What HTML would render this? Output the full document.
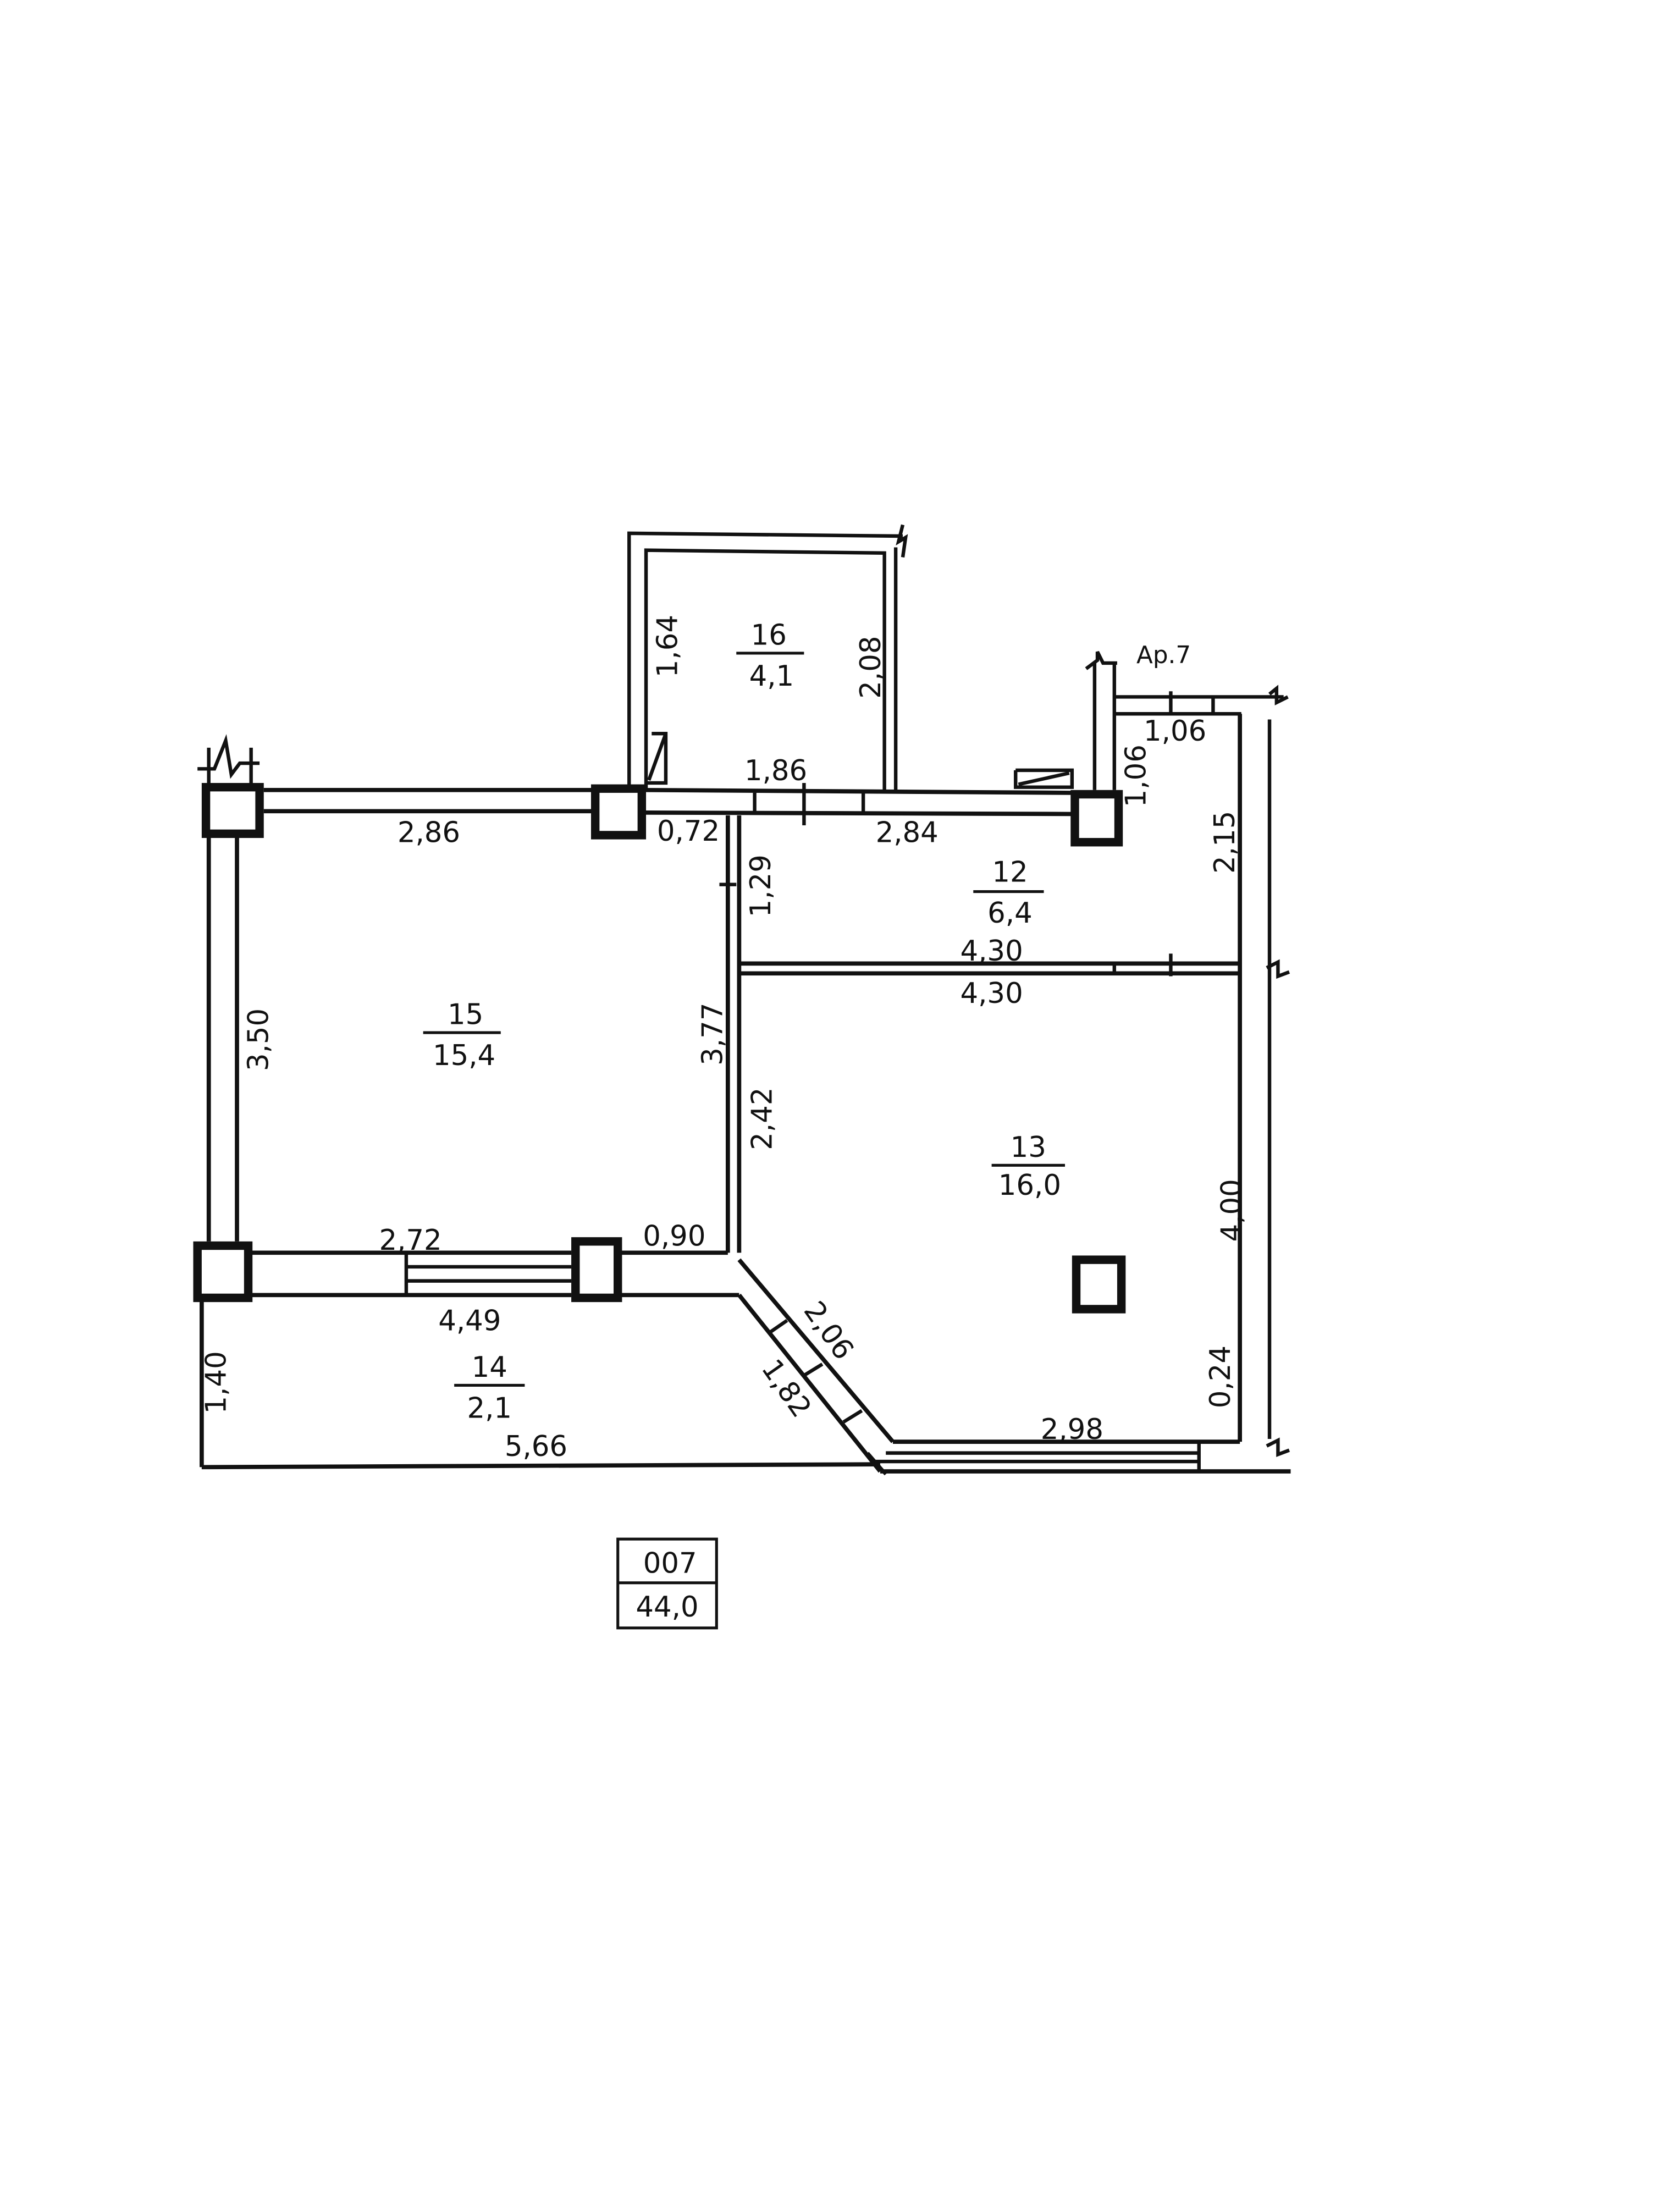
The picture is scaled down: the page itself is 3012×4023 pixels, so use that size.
<!DOCTYPE html>
<html><head><meta charset="utf-8"><style>
html,body{margin:0;padding:0;background:#fff}
svg{display:block}
text{font-family:"DejaVu Sans","Liberation Sans",sans-serif;fill:#111}
</style></head><body>
<svg width="3012" height="4023" viewBox="0 0 1174 1568" xmlns="http://www.w3.org/2000/svg">
<rect width="1174" height="1568" fill="#fff"/>
<g stroke="#111" fill="none" stroke-width="2.5">
<polyline points="446,560 446,378 640,380"/>
<polyline points="458,560 458,390 627,392 627,560"/>
<line x1="635" y1="388" x2="635" y2="560"/>
<path d="M640,372 l-3,12 l5,-3 l-2,14"/>
<polyline points="462,520 472,520 472,555 458,555"/>
<line x1="472" y1="520" x2="460" y2="553"/>
<line x1="187" y1="560" x2="420" y2="560" stroke-width="3"/>
<line x1="187" y1="575" x2="420" y2="575" stroke-width="3"/>
<line x1="457" y1="560" x2="760" y2="562" stroke-width="3"/>
<line x1="457" y1="576" x2="760" y2="577" stroke-width="3"/>
<line x1="535" y1="562" x2="535" y2="577"/>
<line x1="612" y1="562" x2="612" y2="577"/>
<line x1="570" y1="555" x2="570" y2="585"/>
<line x1="776" y1="470" x2="776" y2="560"/>
<line x1="790" y1="470" x2="790" y2="560"/>
<path d="M770,474 l8,-6 l0,-6 l4,8 l10,0"/>
<polyline points="720,546 720,558 760,558 760,546 720,546"/>
<line x1="722" y1="556" x2="758" y2="548"/>
<line x1="790" y1="494" x2="910" y2="494"/>
<line x1="790" y1="506" x2="880" y2="506"/>
<line x1="830" y1="490" x2="830" y2="506"/>
<line x1="860" y1="494" x2="860" y2="506"/>
<path d="M900,492 l5,-4 l0,10 l8,-4"/>
<line x1="879" y1="506" x2="879" y2="1022" stroke-width="3"/>
<line x1="900" y1="510" x2="900" y2="1020"/>
<path d="M898,686 l8,-4 l0,10 l8,-3"/>
<path d="M898,1025 l8,-4 l0,10 l8,-3"/>
<line x1="516" y1="578" x2="516" y2="888" stroke-width="3"/>
<line x1="524" y1="578" x2="524" y2="888" stroke-width="3"/>
<line x1="510" y1="627" x2="522" y2="627"/>
<line x1="524" y1="683" x2="879" y2="683" stroke-width="3"/>
<line x1="524" y1="690" x2="879" y2="690" stroke-width="3"/>
<line x1="830" y1="676" x2="830" y2="692"/>
<line x1="790" y1="683" x2="790" y2="690"/>
<line x1="148" y1="592" x2="148" y2="880" stroke-width="3"/>
<line x1="168" y1="592" x2="168" y2="880" stroke-width="3"/>
<path d="M140,545 l12,0 l8,-20 l4,24 l6,-8 l14,0"/>
<line x1="148" y1="530" x2="148" y2="556"/>
<line x1="178" y1="530" x2="178" y2="556"/>
<line x1="178" y1="888" x2="405" y2="888" stroke-width="3"/>
<line x1="178" y1="918" x2="405" y2="918" stroke-width="3"/>
<line x1="288" y1="888" x2="288" y2="918"/>
<line x1="288" y1="898" x2="405" y2="898"/>
<line x1="288" y1="908" x2="405" y2="908"/>
<line x1="440" y1="888" x2="516" y2="888" stroke-width="3"/>
<line x1="440" y1="918" x2="524" y2="918" stroke-width="3"/>
<line x1="524" y1="893" x2="633" y2="1022" stroke-width="3"/>
<line x1="524" y1="918" x2="624" y2="1043" stroke-width="3"/>
<line x1="615" y1="1030" x2="628" y2="1045"/>
<line x1="545" y1="945" x2="558" y2="936"/>
<line x1="570" y1="975" x2="583" y2="967"/>
<line x1="598" y1="1008" x2="611" y2="1000"/>
<line x1="633" y1="1022" x2="879" y2="1022" stroke-width="3"/>
<line x1="628" y1="1030" x2="850" y2="1030"/>
<line x1="620" y1="1036" x2="850" y2="1036"/>
<line x1="624" y1="1043" x2="915" y2="1043" stroke-width="3"/>
<line x1="850" y1="1022" x2="850" y2="1043"/>
<line x1="143" y1="922" x2="143" y2="1040" stroke-width="3"/>
<line x1="143" y1="1040" x2="624" y2="1038" stroke-width="3"/>
</g>
<g stroke="#111" stroke-width="6" fill="#fff">
<rect x="146" y="558" width="38" height="33"/>
<rect x="422" y="559" width="33" height="33"/>
<rect x="762" y="563" width="31" height="34"/>
<rect x="140" y="883" width="36" height="37"/>
<rect x="408" y="880" width="30" height="40"/>
<rect x="763" y="893" width="32" height="35"/>
</g>
<g stroke="#111" stroke-width="2" fill="none">
<rect x="438" y="1091" width="70" height="63"/>
<line x1="438" y1="1122" x2="508" y2="1122"/>
</g>
<g font-size="20" text-anchor="middle">
<text x="475" y="1115">007</text>
<text x="473" y="1146">44,0</text>
<text x="545" y="457">16</text><line x1="522" y1="463" x2="570" y2="463" stroke="#111" stroke-width="2"/><text x="547" y="486">4,1</text>
<text x="716" y="625">12</text><line x1="690" y1="632" x2="740" y2="632" stroke="#111" stroke-width="2"/><text x="716" y="654">6,4</text>
<text x="330" y="726">15</text><line x1="300" y1="732" x2="355" y2="732" stroke="#111" stroke-width="2"/><text x="329" y="755">15,4</text>
<text x="729" y="820">13</text><line x1="703" y1="826" x2="755" y2="826" stroke="#111" stroke-width="2"/><text x="730" y="847">16,0</text>
<text x="347" y="976">14</text><line x1="322" y1="982" x2="372" y2="982" stroke="#111" stroke-width="2"/><text x="347" y="1005">2,1</text>
<text x="304" y="597">2,86</text>
<text x="488" y="596">0,72</text>
<text x="550" y="553">1,86</text>
<text x="643" y="597">2,84</text>
<text x="703" y="681">4,30</text>
<text x="703" y="711">4,30</text>
<text x="291" y="886">2,72</text>
<text x="478" y="883">0,90</text>
<text x="333" y="943">4,49</text>
<text x="380" y="1032">5,66</text>
<text x="760" y="1020">2,98</text>
<text x="833" y="525">1,06</text>
<text x="825" y="470" font-family="Liberation Serif" font-size="17">Ap.7</text>
</g>
<g font-size="20" text-anchor="middle">
<text transform="translate(480,458) rotate(-90)">1,64</text>
<text transform="translate(624,473) rotate(-90)">2,08</text>
<text transform="translate(190,737) rotate(-90)">3,50</text>
<text transform="translate(512,733) rotate(-90)">3,77</text>
<text transform="translate(547,793) rotate(-90)">2,42</text>
<text transform="translate(546,628) rotate(-90)">1,29</text>
<text transform="translate(812,550) rotate(-90)">1,06</text>
<text transform="translate(875,597) rotate(-90)">2,15</text>
<text transform="translate(880,858) rotate(-90)">4,00</text>
<text transform="translate(872,976) rotate(-90)">0,24</text>
<text transform="translate(160,980) rotate(-90)">1,40</text>
<text transform="translate(582,947) rotate(55)">2,06</text>
<text transform="translate(552,988) rotate(55)">1,82</text>
</g>
</svg>
</body></html>
